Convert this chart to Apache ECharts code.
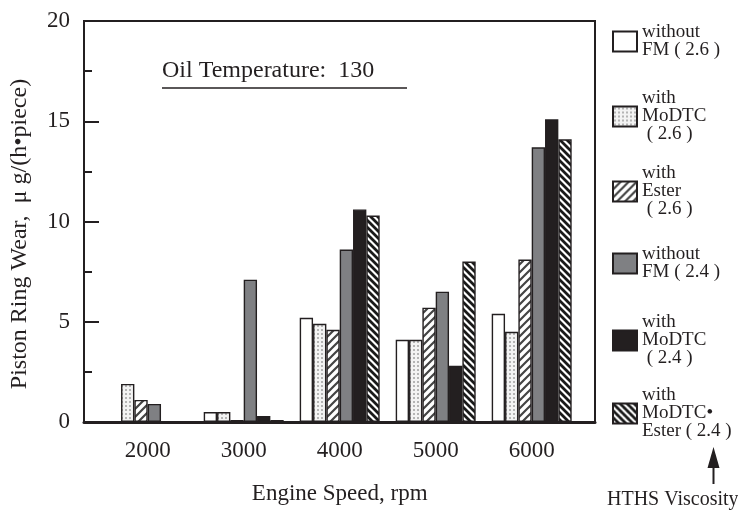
<!DOCTYPE html>
<html>
<head>
<meta charset="utf-8">
<script src="https://cdn.jsdelivr.net/npm/echarts@6/dist/echarts.min.js"></script>
<style>
  html, body { margin: 0; padding: 0; background: #fff; }
  #chart { width: 738px; height: 511px; }
</style>
</head>
<body>
<div id="chart"></div>
<script>
// Engine speed groups (rpm)
const speeds = ['2000', '3000', '4000', '5000', '6000'];

// Piston ring wear, µg/(h·piece), one array per oil
const withoutFM26 = [0, 0.5, 5.2, 4.1, 5.4];
const withMoDTC26 = [1.9, 0.5, 4.9, 4.1, 4.5];
const withEster26 = [1.1, 0.1, 4.6, 5.7, 8.1];
const withoutFM24 = [0.9, 7.1, 8.6, 6.5, 13.7];
const withMoDTC24 = [0, 0.3, 10.6, 2.8, 15.1];
const withMoDTCEster24 = [0, 0.1, 10.3, 8.0, 14.1];

// Legend labels
const seriesNames = [
  'without\nFM ( 2.6 )',
  'with\nMoDTC\n ( 2.6 )',
  'with\nEster\n ( 2.6 )',
  'without\nFM ( 2.4 )',
  'with\nMoDTC\n ( 2.4 )',
  'with\nMoDTC•\nEster ( 2.4 )'
];

// Axis ticks
const yMin = 0, yMax = 20, yStep = 5;

const FONT = '"Liberation Serif", "Times New Roman", serif';
const INK = '#231f20';

// Fill patterns drawn on small canvases
function dotPattern() {
  const c = document.createElement('canvas');
  c.width = 4; c.height = 4;
  const g = c.getContext('2d');
  g.fillStyle = '#f3f3f3'; g.fillRect(0, 0, 4, 4);
  g.fillStyle = '#b4b4b4'; g.fillRect(1, 1, 2, 2);
  return { image: c, repeat: 'repeat' };
}
function hatchPattern(size, width, color, forward) {
  const c = document.createElement('canvas');
  c.width = size; c.height = size;
  const g = c.getContext('2d');
  g.fillStyle = '#ffffff'; g.fillRect(0, 0, size, size);
  g.strokeStyle = color; g.lineWidth = width; g.lineCap = 'square';
  g.beginPath();
  for (let k = -1; k <= 1; k++) {
    if (forward) { // "/"
      g.moveTo(k * size, size); g.lineTo(k * size + size, 0);
    } else {       // "\"
      g.moveTo(k * size, 0); g.lineTo(k * size + size, size);
    }
  }
  g.stroke();
  return { image: c, repeat: 'repeat' };
}

const fills = [
  '#ffffff',
  dotPattern(),
  hatchPattern(8, 2.2, '#444444', true),
  '#7f8083',
  '#231f20',
  hatchPattern(7, 2.8, '#1a1a1a', false)
];
const values = [withoutFM26, withMoDTC26, withEster26, withoutFM24, withMoDTC24, withMoDTCEster24];

const series = values.map((v, i) => ({
  name: seriesNames[i],
  type: 'bar',
  xAxisIndex: 1,
  yAxisIndex: 1,
  data: v,
  barGap: '0%',
  barCategoryGap: '16.7%',
  itemStyle: { color: fills[i], borderColor: INK, borderWidth: 1.4 },
  emphasis: { disabled: true }
}));

// One legend block per entry, stacked down the right side
const legendCenters = [36, 111, 186, 258, 335, 408];
const LH = 18;
const legends = seriesNames.map((n, i) => {
  const lines = n.split('\n').length;
  return {
    data: [n],
    left: 607,
    top: legendCenters[i] - (lines * LH) / 2,
    itemWidth: 24,
    itemHeight: 20,
    itemGap: 0,
    selectedMode: false,
    icon: 'rect',
    textStyle: { fontFamily: FONT, fontSize: 19, color: INK, lineHeight: LH }
  };
});

const chart = echarts.init(document.getElementById('chart'), null, { renderer: 'canvas' });
chart.setOption({
  animation: false,
  backgroundColor: '#ffffff',
  textStyle: { fontFamily: FONT },
  grid: [
    { left: 84, right: 143, top: 21, bottom: 89, show: true, borderColor: INK, borderWidth: 2, backgroundColor: 'transparent' },
    { left: 99.7, right: 158.3, top: 21, bottom: 89 }
  ],
  xAxis: [
    { gridIndex: 0, type: 'value', min: 0, max: 1, show: true,
      axisLine: { show: true, lineStyle: { color: INK, width: 3 } },
      axisTick: { show: false }, axisLabel: { show: false }, splitLine: { show: false }, z: 10 },
    { gridIndex: 1, type: 'category', data: speeds,
      axisLine: { show: false }, axisTick: { show: false },
      axisLabel: { fontFamily: FONT, fontSize: 23, color: INK, margin: 17 },
      name: 'Engine Speed, rpm', nameLocation: 'middle', nameGap: 60,
      nameTextStyle: { fontFamily: FONT, fontSize: 23, color: INK } }
  ],
  yAxis: [
    { gridIndex: 0, type: 'value', min: yMin, max: yMax, interval: yStep,
      axisLine: { show: true, lineStyle: { color: INK, width: 2 } },
      axisTick: { show: true, inside: true, length: 15, lineStyle: { color: INK, width: 2 } },
      minorTick: { show: true, splitNumber: 2, length: 8, lineStyle: { color: INK, width: 2 } },
      axisLabel: { fontFamily: FONT, fontSize: 23, color: INK, margin: 14 },
      splitLine: { show: false }, z: 10,
      name: 'Piston Ring Wear,  μ g/(h•piece)', nameLocation: 'middle', nameGap: 52,
      nameTextStyle: { fontFamily: FONT, fontSize: 24, color: INK, padding: [0, 25, 0, 0] } },
    { gridIndex: 1, type: 'value', min: yMin, max: yMax, show: false }
  ],
  legend: legends,
  series: series,
  graphic: [
    { type: 'text', left: 162, top: 59,
      style: { text: 'Oil Temperature:  130', font: '24px ' + FONT, fill: INK } },
    { type: 'line', shape: { x1: 162, y1: 88, x2: 407, y2: 88 }, style: { stroke: INK, lineWidth: 1.5 } },
    { type: 'line', shape: { x1: 713.5, y1: 466, x2: 713.5, y2: 484 }, style: { stroke: INK, lineWidth: 2 } },
    { type: 'polygon', shape: { points: [[713.5, 447], [707.5, 468], [719.5, 468]] }, style: { fill: INK } },
    { type: 'text', left: 607, top: 490,
      style: { text: 'HTHS Viscosity', font: '20px ' + FONT, fill: INK } }
  ]
});
</script>
</body>
</html>
